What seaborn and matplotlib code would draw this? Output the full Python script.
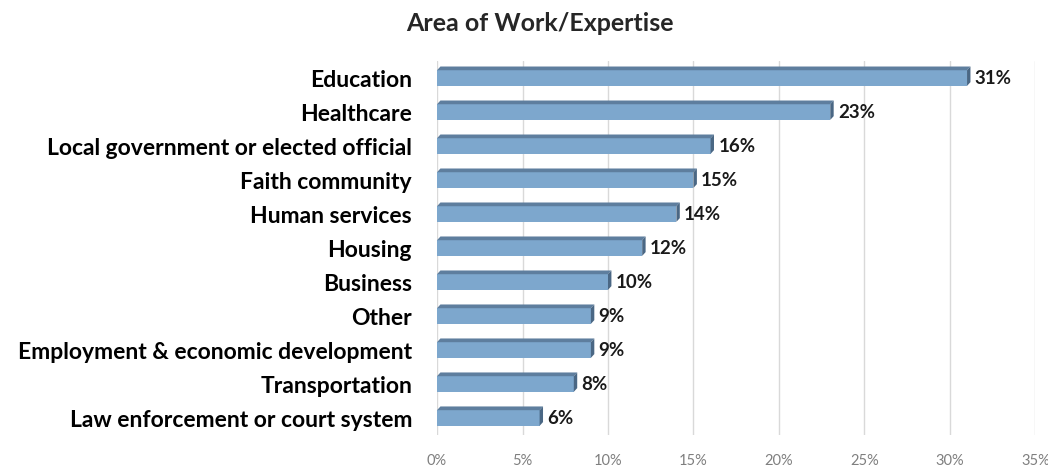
import matplotlib
matplotlib.use("Agg")
import matplotlib.pyplot as plt
import seaborn as sns
import pandas as pd
from matplotlib.patches import Polygon

categories = ["Education", "Healthcare", "Local government or elected official",
              "Faith community", "Human services", "Housing", "Business", "Other",
              "Employment & economic development", "Transportation",
              "Law enforcement or court system"]
values = [31, 23, 16, 15, 14, 12, 10, 9, 9, 8, 6]
x_ticks = [0, 5, 10, 15, 20, 25, 30, 35]
x_tick_labels = ["0%", "5%", "10%", "15%", "20%", "25%", "30%", "35%"]
title = "Area of Work/Expertise"

sns.set_theme(style="white")
plt.rcParams['font.family'] = ['Lato', 'DejaVu Sans']

df = pd.DataFrame({"cat": categories, "val": values})

fig = plt.figure(figsize=(10.48, 4.68), dpi=100)
ax = fig.add_axes([0.417, 0.0705, 0.571, 0.799])

sns.barplot(data=df, x="val", y="cat", color="#7DA7CD", saturation=1,
            width=0.46, ax=ax, zorder=3, edgecolor="none")

ax.set_xlim(0, 35)
ax.set_ylim(10.5, -0.5)
ax.set_xticks(x_ticks)
ax.set_xticklabels(x_tick_labels, color="#7F7F7F", fontsize=10.5)
ax.tick_params(axis="x", length=0, pad=14)
ax.tick_params(axis="y", length=0, pad=18)
for lab in ax.get_yticklabels():
    lab.set_fontweight("bold")
    lab.set_fontsize(16.5)
    lab.set_color("#000000")
ax.set_xlabel("")
ax.set_ylabel("")
for s in ax.spines.values():
    s.set_visible(False)
ax.xaxis.grid(True, color="#D9D9D9", linewidth=1, zorder=0)
ax.set_axisbelow(True)

# 3D-style top and right faces derived from each bar
depth_x = 0.2
depth_y = 0.11
for p, v in zip(ax.patches, values):
    x0, y0 = p.get_x(), p.get_y()
    w, h = p.get_width(), p.get_height()
    top = Polygon([(x0, y0), (x0 + depth_x, y0 - depth_y), (x0 + w + depth_x, y0 - depth_y), (x0 + w, y0)],
                  closed=True, facecolor="#5E7E9E", edgecolor="none", zorder=4)
    side = Polygon([(x0 + w, y0), (x0 + w + depth_x, y0 - depth_y), (x0 + w + depth_x, y0 + h - depth_y), (x0 + w, y0 + h)],
                   closed=True, facecolor="#4A6784", edgecolor="none", zorder=4)
    ax.add_patch(top)
    ax.add_patch(side)
    ax.text(x0 + w + 0.45, y0 + h / 2, f"{v}%", va="center", ha="left",
            fontsize=13.5, fontweight="bold", color="#1a1a1a", zorder=5)

fig.text(0.515, 0.95, title, ha="center", va="center", fontsize=18, fontweight="bold")

fig.savefig("out.png", dpi=100, facecolor="white")
